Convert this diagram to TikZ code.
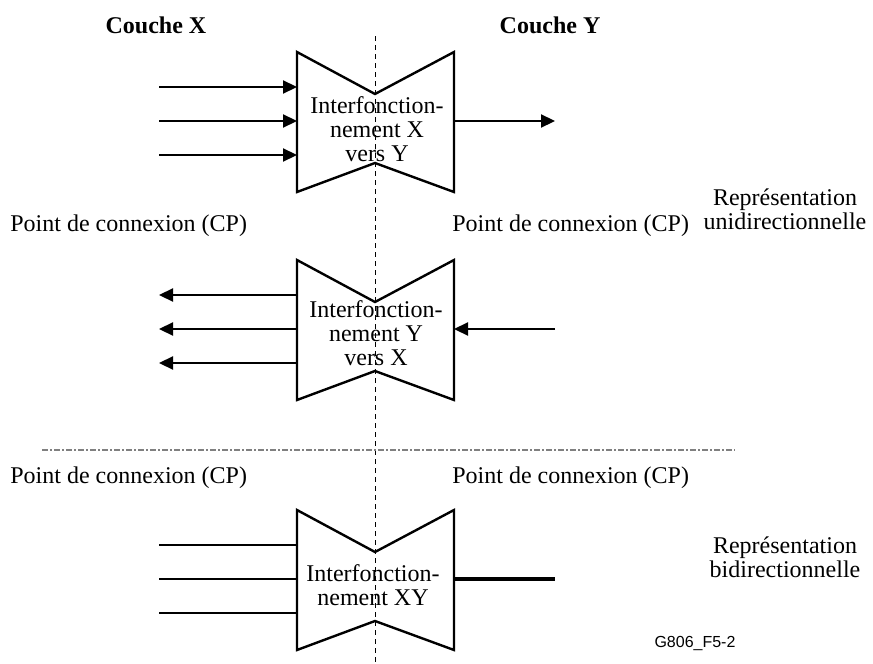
\documentclass[tikz,border=0pt]{standalone}
\usepackage{fontspec}
\setmainfont{Liberation Serif}
\newfontfamily\refsans{Liberation Sans}
\usetikzlibrary{arrows.meta}

\begin{document}
\begin{tikzpicture}[x=0.5pt,y=-0.5pt,
      lbl/.style={font=\fontsize{12}{12.5}\selectfont, inner sep=0pt},
      titre/.style={font=\fontsize{12}{12.5}\selectfont\bfseries, inner sep=0pt},
      iwf/.style={font=\fontsize{12}{12}\selectfont, align=center, inner sep=0pt},
      fleche/.style={line width=1.1pt,-{Triangle[length=7pt,width=6.5pt]}},
      ligne/.style={line width=1.1pt},
      bloc/.style={line width=1.2pt, line join=miter},
      sepv/.style={line width=0.5pt, dash pattern=on 2.5pt off 2pt},
      seph/.style={gray, line width=0.6pt, dash pattern=on 3pt off 1pt on 1pt off 1pt}
      ]
      \useasboundingbox (0,0) rectangle (873,664);

      % separators
      \coordinate (sepH) at (375,36);
      \coordinate (sepB) at (375,664);
      \coordinate (sepG) at (42,450);
      \coordinate (sepD) at (735,450);
      \draw[sepv] (sepH) -- (sepB);
      \draw[seph] (sepG) -- (sepD);

      % the three interworking blocks
      \foreach \t/\b in {52/XvY,260/YvX,510/XY}{
        \draw[bloc] (297,\t) -- (375,\t+42) -- (454,\t) -- (454,\t+140)
          -- (375,\t+111) -- (297,\t+140) -- cycle;
        \coordinate (\b-l1) at (297,\t+35);
        \coordinate (\b-l2) at (297,\t+69);
        \coordinate (\b-l3) at (297,\t+103);
        \coordinate (\b-e1) at (159,\t+35);
        \coordinate (\b-e2) at (159,\t+69);
        \coordinate (\b-e3) at (159,\t+103);
        \coordinate (\b-r) at (454,\t+69);
        \coordinate (\b-s) at (555,\t+69);
      }

      \node[iwf] (txtXvY) at (377,129) {Interfonction-\\nement X\\vers Y};
      \node[iwf] (txtYvX) at (376,333) {Interfonction-\\nement Y\\vers X};
      \node[iwf] (txtXY) at (373,585) {Interfonction-\\nement XY};

      \foreach \i in {1,2,3}{
        \draw[fleche] (XvY-e\i) -- (XvY-l\i);
        \draw[fleche] (YvX-l\i) -- (YvX-e\i);
        \draw[ligne] (XY-e\i) -- (XY-l\i);
      }
      \draw[fleche] (XvY-r) -- (XvY-s);
      \draw[fleche] (YvX-s) -- (YvX-r);
      \draw[line width=1.6pt] (XY-r) -- (XY-s);

      % labels
      \node[titre] (coucheX) at (156,25) {Couche X};
      \node[titre] (coucheY) at (550,25) {Couche Y};
      \node[lbl,anchor=west] (cpXh) at (10,226) {Point de connexion (CP)};
      \node[lbl,anchor=west] (cpYh) at (452,226) {Point de connexion (CP)};
      \node[lbl,anchor=west] (cpXb) at (10,478) {Point de connexion (CP)};
      \node[lbl,anchor=west] (cpYb) at (452,478) {Point de connexion (CP)};
      \node[iwf] (repU) at (785,209) {Représentation\\unidirectionnelle};
      \node[iwf] (repB) at (785,557) {Représentation\\bidirectionnelle};
      \node[font=\refsans\fontsize{8}{8}\selectfont, inner sep=0pt] (ref) at (695,643) {G806\_F5-2};
    \end{tikzpicture}
\end{document}
